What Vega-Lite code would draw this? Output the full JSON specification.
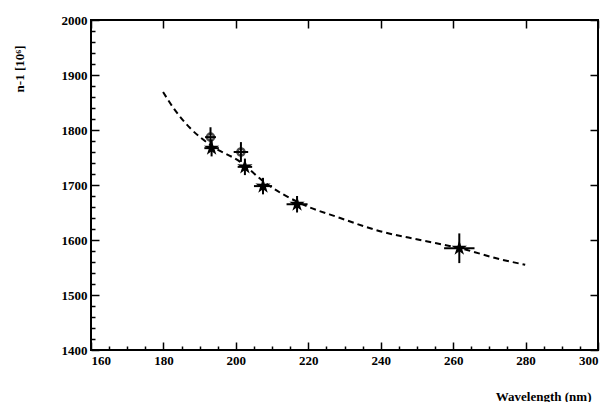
{
  "$schema": "https://vega.github.io/schema/vega-lite/v6.json",
  "autosize": "none",
  "width": 507,
  "height": 330,
  "padding": {"left": 91, "top": 20, "right": 18, "bottom": 52},
  "background": "white",
  "config": {
    "view": {"stroke": "black", "strokeWidth": 2},
    "axis": {"labelFont": "Liberation Serif", "labelFontWeight": "bold", "labelFontSize": 13, "labelColor": "black", "titleFont": "Liberation Serif", "titleFontWeight": "bold", "titleFontSize": 13, "titleColor": "black", "domain": false, "grid": false, "tickColor": "black", "tickWidth": 1.5, "format": "d"}
  },
  "datasets": {
    "curve": [
      {"w": 179.9, "n": 1869}, {"w": 183.2, "n": 1836}, {"w": 187.3, "n": 1804}, {"w": 192.9, "n": 1773},
      {"w": 201.2, "n": 1742}, {"w": 208.1, "n": 1704}, {"w": 217.7, "n": 1667}, {"w": 228.8, "n": 1640},
      {"w": 239.8, "n": 1616}, {"w": 250.9, "n": 1600}, {"w": 261.9, "n": 1585}, {"w": 273.0, "n": 1565},
      {"w": 279.9, "n": 1555}
    ],
    "pts": [
      {"w": 193.0, "n": 1787, "wlo": 191.5, "whi": 194.5, "nlo": 1769, "nhi": 1805, "type": "circle"},
      {"w": 193.3, "n": 1767, "wlo": 191.3, "whi": 195.3, "nlo": 1752, "nhi": 1782, "type": "star"},
      {"w": 201.4, "n": 1760, "wlo": 199.4, "whi": 203.4, "nlo": 1742, "nhi": 1778, "type": "circle"},
      {"w": 202.5, "n": 1733, "wlo": 200.5, "whi": 204.5, "nlo": 1718, "nhi": 1748, "type": "star"},
      {"w": 207.5, "n": 1698, "wlo": 205.0, "whi": 210.0, "nlo": 1683, "nhi": 1713, "type": "star"},
      {"w": 216.9, "n": 1665, "wlo": 214.0, "whi": 219.8, "nlo": 1650, "nhi": 1680, "type": "star"},
      {"w": 261.7, "n": 1585, "wlo": 257.5, "whi": 265.9, "nlo": 1558, "nhi": 1612, "type": "star"}
    ]
  },
  "layer": [
    {
      "data": {"name": "curve"},
      "mark": {"type": "line", "color": "black", "strokeWidth": 2, "strokeDash": [6, 4], "interpolate": "monotone"},
      "encoding": {
        "x": {"field": "w", "type": "quantitative", "scale": {"domain": [160, 300], "nice": false},
          "axis": {"orient": "bottom", "values": [160,165,170,175,180,185,190,195,200,205,210,215,220,225,230,235,240,245,250,255,260,265,270,275,280,285,290,295,300],
            "labelExpr": "datum.value % 20 === 0 ? datum.label : ''", "tickSize": {"condition": {"test": "datum.value % 20 === 0", "value": -8}, "value": -4},
            "labelPadding": 12, "title": "Wavelength (nm)", "titleAnchor": "end", "titleAlign": "right", "titleX": 500, "titleY": 40}},
        "y": {"field": "n", "type": "quantitative", "scale": {"domain": [1400, 2000], "nice": false, "zero": false},
          "axis": {"orient": "left", "values": [1400,1420,1440,1460,1480,1500,1520,1540,1560,1580,1600,1620,1640,1660,1680,1700,1720,1740,1760,1780,1800,1820,1840,1860,1880,1900,1920,1940,1960,1980,2000],
            "labelExpr": "datum.value % 100 === 0 ? datum.label : ''", "tickSize": {"condition": {"test": "datum.value % 100 === 0", "value": -8}, "value": -4},
            "labelPadding": 12, "title": "n-1 [10⁶]", "titleAngle": -90, "titleAlign": "right", "titleAnchor": "end", "titleX": -65, "titleY": 25}}
      }
    },
    {
      "data": {"name": "pts"},
      "mark": {"type": "rule", "color": "black", "strokeWidth": 2},
      "encoding": {
        "x": {"field": "wlo", "type": "quantitative", "axis": {"orient": "top", "labels": false, "title": null, "values": [160,180,200,220,240,260,280,300], "tickSize": -8}},
        "x2": {"field": "whi"},
        "y": {"field": "n", "type": "quantitative", "axis": {"orient": "right", "labels": false, "title": null, "values": [1400,1500,1600,1700,1800,1900,2000], "tickSize": -8}}
      }
    },
    {
      "data": {"name": "pts"},
      "mark": {"type": "rule", "color": "black", "strokeWidth": 2},
      "encoding": {
        "x": {"field": "w", "type": "quantitative", "axis": null},
        "y": {"field": "nlo", "type": "quantitative", "axis": null},
        "y2": {"field": "nhi"}
      }
    },
    {
      "data": {"name": "pts"},
      "mark": {"type": "point", "filled": false, "color": "black", "strokeWidth": 2.5, "size": 50},
      "transform": [{"filter": "datum.type === 'circle'"}],
      "encoding": {
        "x": {"field": "w", "type": "quantitative", "axis": null},
        "y": {"field": "n", "type": "quantitative", "axis": null}
      }
    },
    {
      "data": {"name": "pts"},
      "mark": {"type": "point", "filled": true, "color": "black", "opacity": 1, "size": 260, "shape": "M0,-1L0.22,-0.3L0.95,-0.31L0.36,0.12L0.59,0.81L0,0.38L-0.59,0.81L-0.36,0.12L-0.95,-0.31L-0.22,-0.3Z"},
      "transform": [{"filter": "datum.type === 'star'"}],
      "encoding": {
        "x": {"field": "w", "type": "quantitative", "axis": null},
        "y": {"field": "n", "type": "quantitative", "axis": null}
      }
    }
  ],
  "resolve": {"axis": {"x": "independent", "y": "independent"}}
}
